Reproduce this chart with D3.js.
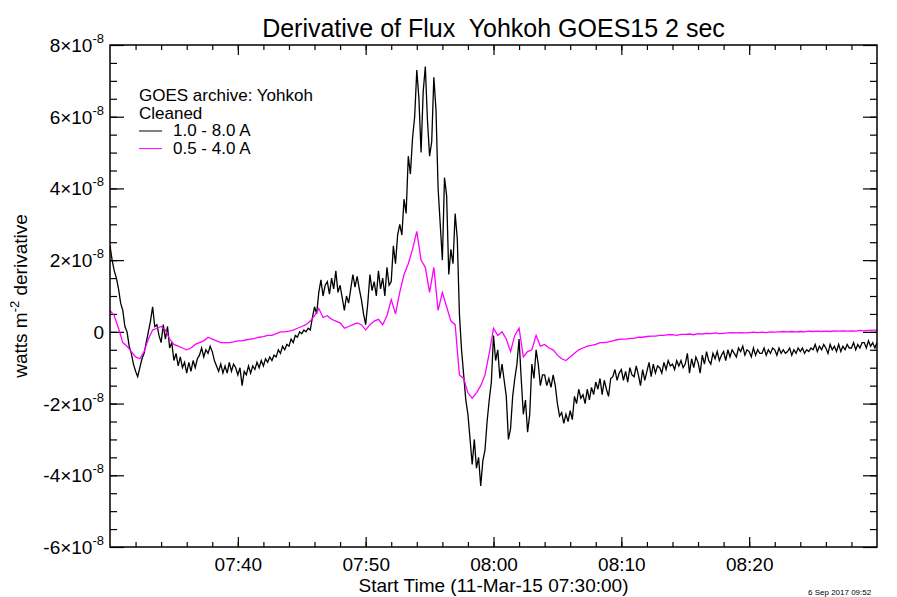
<!DOCTYPE html>
<html>
<head>
<meta charset="utf-8">
<script src="https://cdn.jsdelivr.net/npm/d3@7.9.0/dist/d3.min.js"></script>
<style>
  html, body { margin: 0; padding: 0; background: #fff; }
  svg { display: block; font-family: "Liberation Sans", Arial, Helvetica, sans-serif; }
</style>
</head>
<body>
<svg id="chart" width="897" height="597"></svg>
<script>
// GOES15 derivative of flux, 11-Mar-15, values in units of 1e-8 W m^-2
const startTime = "2015-03-11T07:30:00Z";
const endTime = "2015-03-11T08:30:00Z";
const longStepSeconds = 10;
const shortStepSeconds = 20;

// 1.0 - 8.0 A channel (black), one value per 10 s
const longChannel = [
  2.4, 2.0, 1.7, 1.5, 1.2, 0.8,        0.6, 0.15, 0.0, -0.4, -0.6, -0.9,
  -1.1, -1.25, -1.0, -0.75, -0.6, -0.3,  0.0, 0.3, 0.7, 0.15, 0.2, -0.1,
  -0.3, 0.2, -0.2, 0.15, -0.45, -0.3,  -0.8, -0.6, -0.95, -0.7, -1.0, -0.85,
  -1.15, -0.85, -1.1, -0.8, -1.0, -0.75,  -0.65, -0.45, -0.7, -0.5, -0.6, -0.4,
  -0.55, -0.8, -0.95, -1.1, -0.9, -1.15,  -0.95, -1.15, -0.85, -1.1, -0.9, -1.0,
  -1.2, -1.0, -1.5, -1.1, -1.2, -0.95,  -1.15, -0.95, -1.05, -0.85, -1.0, -0.8,
  -0.95, -0.75, -0.85, -0.7, -0.8, -0.65,  -0.7, -0.5, -0.6, -0.4, -0.5, -0.35,
  -0.4, -0.2, -0.3, -0.1, -0.15, 0.0,  -0.05, 0.05, 0.0, 0.1, 0.05, 0.4,
  0.7, 0.5, 1.1, 1.45, 1.0, 1.3,  1.4, 1.05, 1.5, 1.2, 1.7, 1.1,
  1.3, 0.95, 0.6, 1.0, 0.8, 1.2,  1.6, 1.25, 1.55, 1.2, 0.9, 0.5,
  0.2, 0.8, 1.6, 1.15, 1.4, 1.0,  1.7, 1.2, 1.5, 1.0, 1.8, 1.3,
  1.4, 2.4, 1.9, 2.7, 3.0, 2.7,  3.7, 3.3, 4.9, 4.4, 5.4, 6.0,
  7.3, 6.5, 5.0, 6.7, 7.4, 5.9,  4.9, 5.3, 7.1, 6.2, 4.0, 3.0,
  2.0, 4.3, 3.8, 1.6, 2.3, 1.9,  3.3, 2.6, 0.5, -0.5, -1.2, -1.9,
  -2.3, -3.0, -3.7, -3.0, -3.8, -3.5,  -4.3, -3.6, -3.3, -2.5, -1.9, -1.4,
  -0.1, -0.8, -0.5, -1.3, -0.9, -1.35,  -1.8, -3.0, -2.7, -1.8, -1.3, -0.9,
  -0.2, -1.3, -2.3, -1.9, -2.8, -2.3,  -0.9, -1.3, -0.5, -0.9, -1.5, -1.2,
  -1.2, -1.5, -1.3, -1.55, -1.2, -1.5,  -2.0, -2.35, -2.25, -2.55, -2.3, -2.5,
  -2.2, -2.45, -1.8, -2.0, -1.6, -1.85,  -1.75, -2.0, -1.6, -1.9, -1.55, -1.75,
  -1.4, -1.6, -1.3, -1.75, -1.35, -1.6,  -1.8, -1.3, -1.25, -1.05, -1.35, -1.15,
  -1.05, -1.35, -1.1, -1.4, -1.0, -1.2,  -1.25, -0.95, -1.2, -1.5, -1.05, -1.35,
  -1.1, -0.85, -1.25, -0.9, -1.15, -0.95,  -1.0, -1.15, -0.85, -1.05, -0.8, -0.95,
  -0.9, -1.05, -0.8, -0.95, -0.8, -1.0,  -0.9, -0.6, -1.15, -0.75, -1.0, -0.7,
  -0.85, -1.15, -0.65, -0.9, -0.55, -0.8,  -0.9, -0.6, -0.75, -0.55, -0.8, -0.65,
  -0.55, -0.8, -0.5, -0.7, -0.5, -0.6,  -0.7, -0.45, -0.55, -0.4, -0.65, -0.5,
  -0.55, -0.7, -0.45, -0.65, -0.5, -0.6,  -0.6, -0.45, -0.65, -0.5, -0.6, -0.45,
  -0.5, -0.65, -0.45, -0.6, -0.5, -0.6,  -0.55, -0.45, -0.65, -0.5, -0.6, -0.45,
  -0.55, -0.45, -0.6, -0.5, -0.55, -0.45,  -0.5, -0.35, -0.55, -0.4, -0.5, -0.35,
  -0.45, -0.6, -0.35, -0.5, -0.4, -0.55,  -0.35, -0.55, -0.4, -0.5, -0.35, -0.45,
  -0.45, -0.3, -0.5, -0.35, -0.45, -0.3,  -0.3, -0.45, -0.25, -0.4, -0.3, -0.45,
  -0.3
];

// 0.5 - 4.0 A channel (magenta), one value per 20 s
const shortChannel = [
  0.6, 0.45, 0.1,   -0.3, -0.4, -0.55,   -0.7, -0.75, -0.55,   -0.2, 0.05, 0.1,
  0.15, 0.05, -0.2,   -0.35, -0.4, -0.45,   -0.5, -0.45, -0.35,   -0.3, -0.25, -0.15,
  -0.2, -0.25, -0.3,   -0.3, -0.3, -0.28,   -0.25, -0.25, -0.22,   -0.2, -0.18, -0.15,
  -0.13, -0.1, -0.1,   -0.05, 0.0, 0.0,   0.02, 0.05, 0.1,   0.15, 0.2, 0.3,
  0.45, 0.65, 0.4,   0.45, 0.35, 0.3,   0.25, 0.1, 0.15,   0.2, 0.25, 0.2,
  0.05, 0.2, 0.3,   0.35, 0.2, 0.45,   0.9, 0.5, 1.1,   1.6, 1.9, 2.3,
  2.8, 2.0, 1.8,   1.1, 1.8, 0.6,   1.1, 0.7, 0.3,   0.2, -1.2, -1.3,
  -1.7, -1.85, -1.7,   -1.5, -1.2, -0.6,   0.1, -0.1, 0.0,   -0.2, -0.55, -0.1,
  0.1, -0.7, -0.55,   -0.5, -0.1, -0.4,   -0.35, -0.45, -0.5,   -0.65, -0.75, -0.8,
  -0.7, -0.6, -0.5,   -0.45, -0.4, -0.38,   -0.35, -0.3, -0.3,   -0.28, -0.25, -0.22,
  -0.2, -0.2, -0.18,   -0.18, -0.15, -0.15,   -0.13, -0.12, -0.12,   -0.1, -0.1, -0.08,
  -0.08, -0.1, -0.07,   -0.07, -0.06, -0.08,   -0.05, -0.06, -0.04,   -0.05, -0.03, -0.05,
  -0.04, -0.03, -0.02,   -0.03, -0.02, -0.03,   -0.02, -0.01, -0.02,   -0.01, -0.02, 0.0,
  -0.01, 0.0, 0.01,   0.0, 0.01, 0.0,   0.01, 0.0, 0.02,   0.01, 0.02, 0.01,
  0.02, 0.01, 0.03,   0.02, 0.03, 0.02,   0.03, 0.02, 0.04,   0.03, 0.04, 0.05,
  0.05
];

const yTickValues = [-6, -4, -2, 0, 2, 4, 6, 8];
const xTickLabels = ["07:40", "07:50", "08:00", "08:10", "08:20"];
const legendTitles = ["GOES archive: Yohkoh", "Cleaned"];
const legendSeries = [
  { label: "1.0 - 8.0 A", color: "#000000", values: longChannel, step: longStepSeconds },
  { label: "0.5 - 4.0 A", color: "#ff00ff", values: shortChannel, step: shortStepSeconds }
];

const svg = d3.select("#chart");
const plotLeft = 110, plotRight = 877, plotTop = 45, plotBottom = 547;

const t0 = new Date(startTime);
const x = d3.scaleUtc().domain([t0, new Date(endTime)]).range([plotLeft, plotRight]);
const y = d3.scaleLinear().domain([-6, 8]).range([plotBottom, plotTop]);

// ticks
const xMajor = xTickLabels.map(s => new Date(`2015-03-11T${s}:00Z`));
const xMinor = d3.utcMinute.every(2).range(t0, new Date(endTime)).slice(1);
const yMinor = d3.range(-5.5, 8, 0.5);

function tickAxis(axis, transform) {
  const gAx = svg.append("g").attr("transform", transform).call(axis);
  gAx.select(".domain").remove();
  gAx.selectAll("line").attr("stroke", "#000").attr("stroke-width", 1.2);
  return gAx;
}

// bottom / top
tickAxis(d3.axisBottom(x).tickValues(xMinor).tickSize(-5).tickFormat(""), `translate(0,${plotBottom})`);
tickAxis(d3.axisTop(x).tickValues(xMinor).tickSize(-5).tickFormat(""), `translate(0,${plotTop})`);
tickAxis(d3.axisTop(x).tickValues(xMajor).tickSize(-10).tickFormat(""), `translate(0,${plotTop})`);
const xAx = tickAxis(d3.axisBottom(x).tickValues(xMajor).tickSize(-10).tickFormat(d3.utcFormat("%H:%M")),
  `translate(0,${plotBottom})`);
xAx.selectAll("text")
  .attr("y", 24).attr("dy", null)
  .attr("font-size", 19).attr("font-family", null).attr("fill", "#000");

// left / right
tickAxis(d3.axisLeft(y).tickValues(yMinor).tickSize(-7).tickFormat(""), `translate(${plotLeft},0)`);
tickAxis(d3.axisRight(y).tickValues(yMinor).tickSize(-7).tickFormat(""), `translate(${plotRight},0)`);
tickAxis(d3.axisRight(y).tickValues(yTickValues).tickSize(-14).tickFormat(""), `translate(${plotRight},0)`);
const yAx = tickAxis(d3.axisLeft(y).tickValues(yTickValues).tickSize(-14).tickFormat(""), `translate(${plotLeft},0)`);
yAx.selectAll("text").each(function(d) {
  const t = d3.select(this)
    .attr("x", -6).attr("dy", null).attr("y", 6.5)
    .attr("font-size", 19).attr("font-family", null).attr("fill", "#000");
  if (d === 0) {
    t.text("0");
  } else {
    t.append("tspan").text(`${d}\u00d710`);
    t.append("tspan").attr("font-size", 13).attr("dy", -9).text("-8");
  }
});

// data lines
svg.append("clipPath").attr("id", "plot-clip")
  .append("rect").attr("x", plotLeft).attr("y", plotTop)
  .attr("width", plotRight - plotLeft).attr("height", plotBottom - plotTop);

legendSeries.forEach(s => {
  const line = d3.line()
    .x((d, i) => x(new Date(t0.getTime() + i * s.step * 1000)))
    .y(d => y(d));
  svg.append("path")
    .datum(s.values)
    .attr("clip-path", "url(#plot-clip)")
    .attr("fill", "none").attr("stroke", s.color).attr("stroke-width", 1.3)
    .attr("d", line);
});

// frame
svg.append("rect")
  .attr("x", plotLeft).attr("y", plotTop)
  .attr("width", plotRight - plotLeft).attr("height", plotBottom - plotTop)
  .attr("fill", "none").attr("stroke", "#000").attr("stroke-width", 1.5);

// titles
svg.append("text")
  .attr("x", 493.5).attr("y", 37).attr("text-anchor", "middle")
  .attr("font-size", 25).style("white-space", "pre")
  .text("Derivative of Flux  Yohkoh GOES15 2 sec");

svg.append("text")
  .attr("x", 493.5).attr("y", 592).attr("text-anchor", "middle")
  .attr("font-size", 19).text("Start Time (11-Mar-15 07:30:00)");

const yTitle = svg.append("text")
  .attr("transform", "translate(27,296) rotate(-90)")
  .attr("text-anchor", "middle").attr("font-size", 19);
yTitle.append("tspan").text("watts m");
yTitle.append("tspan").attr("font-size", 13).attr("dy", -8).text("-2");
yTitle.append("tspan").attr("dy", 8).text(" derivative");

svg.append("text")
  .attr("x", 808).attr("y", 595).attr("font-size", 8)
  .text("6 Sep 2017 09:52");

// legend
legendTitles.forEach((s, i) => {
  svg.append("text").attr("x", 139).attr("y", 101 + i * 17.6)
    .attr("font-size", 17).text(s);
});
legendSeries.forEach((s, i) => {
  const yy = 136 + i * 17.6;
  svg.append("line")
    .attr("x1", 139).attr("x2", 162).attr("y1", yy - 5).attr("y2", yy - 5)
    .attr("stroke", s.color).attr("stroke-width", 1);
  svg.append("text").attr("x", 173).attr("y", yy)
    .attr("font-size", 17).text(s.label);
});
</script>
</body>
</html>
